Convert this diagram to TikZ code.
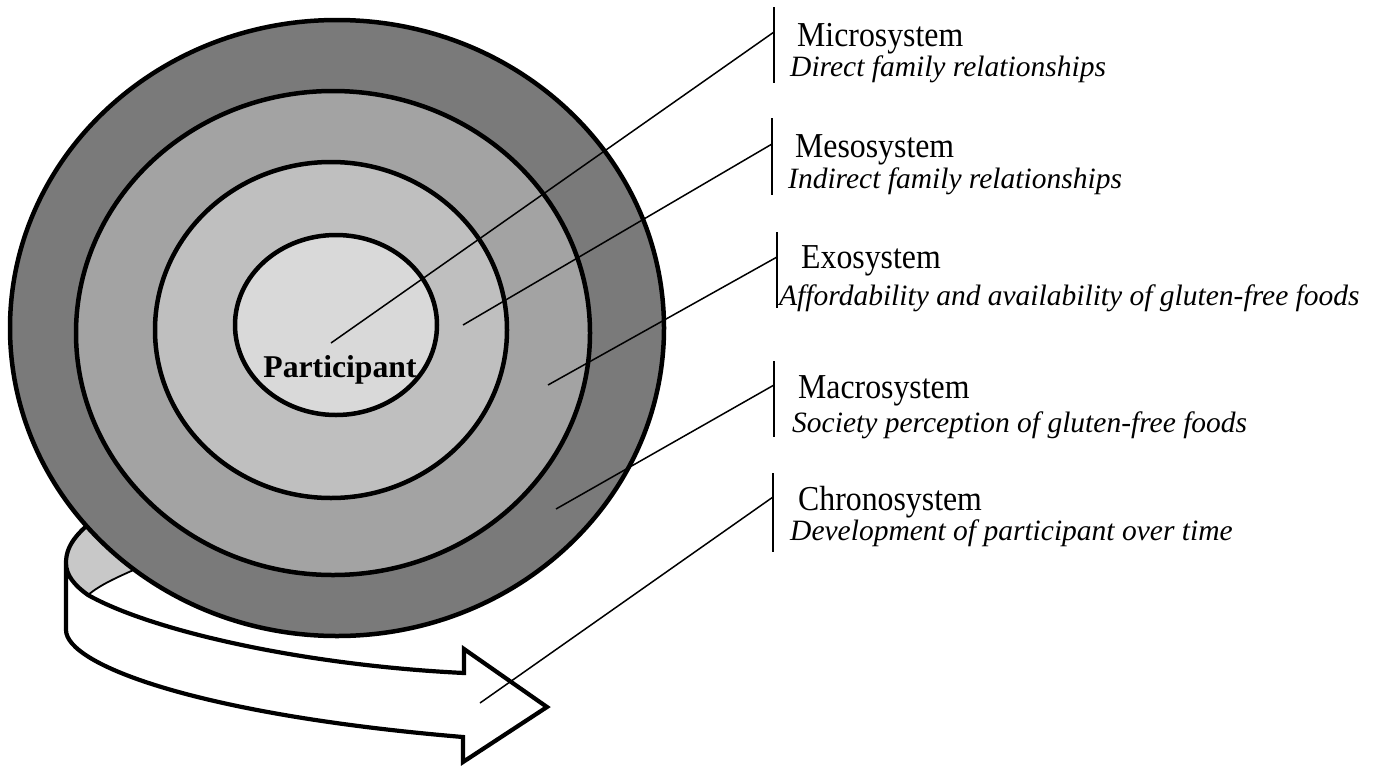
\documentclass[tikz,border=0pt]{standalone}
\usepackage{fontspec}
\setmainfont{Liberation Serif}
\definecolor{ringA}{RGB}{122,122,122}
\definecolor{ringB}{RGB}{163,163,163}
\definecolor{ringC}{RGB}{191,191,191}
\definecolor{ringD}{RGB}{217,217,217}
\definecolor{surf}{RGB}{200,200,200}
\newcommand{\tallhead}[1]{\scalebox{1}[1.1]{#1}}
\begin{document}
\begin{tikzpicture}[x=1pt,y=-1pt,
  ring/.style={draw=black,line width=4.5pt},
  leader/.style={draw=black,line width=1.5pt},
  bar/.style={draw=black,line width=1.6pt},
  title/.style={anchor=base west,inner sep=0pt,font=\fontsize{31.8}{36}\selectfont},
  desc/.style={anchor=base west,inner sep=0pt,font=\fontsize{29.5}{34}\selectfont\itshape},
  arrowedge/.style={draw=black,line width=4.2pt,line join=miter},
  thinedge/.style={draw=black,line width=1.8pt}]
\useasboundingbox (0,0) rectangle (1381,766);

% --- curved 3D arrow (chronosystem) ---
\coordinate (aTL) at (66,563);
\coordinate (aBL) at (66,630);
\coordinate (aSB) at (463,737);
\coordinate (aHB) at (463,762);
\coordinate (aTip) at (547,707);
\coordinate (aHT) at (464,649);
\coordinate (aST) at (464,673);
\coordinate (aIn) at (88,595);
\coordinate (aOutHid) at (100,515);
\coordinate (aInHid) at (145,565);

\fill[surf] (aTL) .. controls (66,546) and (76,533) .. (aOutHid) -- (160,560) -- (aInHid)
  .. controls (115,578) and (100,585) .. (aIn) .. controls (74,585) and (66,575) .. (aTL) -- cycle;
\draw[arrowedge] (aTL) .. controls (66,546) and (76,533) .. (aOutHid);
\draw[thinedge] (aIn) .. controls (100,585) and (115,578) .. (aInHid);
\draw[arrowedge,fill=white] (aTL) -- (aBL) .. controls (66,665) and (200,715) .. (aSB)
  -- (aHB) -- (aTip) -- (aHT) -- (aST) .. controls (300,665) and (150,630) .. (aIn)
  .. controls (74,585) and (66,575) .. (aTL) -- cycle;

% --- nested systems ---
\draw[ring,fill=ringA] (337,328) ellipse [x radius=327pt, y radius=308pt];
\draw[ring,fill=ringB] (333,333) ellipse [x radius=257pt, y radius=242pt];
\draw[ring,fill=ringC] (331,330) ellipse [x radius=176pt, y radius=168pt];
\draw[ring,fill=ringD] (336,325) ellipse [x radius=101pt, y radius=90pt];

\node[anchor=base,inner sep=0pt,font=\fontsize{31.7}{36}\selectfont\bfseries] (part) at (340,377) {Participant};

% --- leader lines ---
\coordinate (pMi) at (331,343); \coordinate (eMi) at (774,32);
\coordinate (pMe) at (463,325); \coordinate (eMe) at (772,144);
\coordinate (pEx) at (548,385); \coordinate (eEx) at (777,257);
\coordinate (pMa) at (556,509); \coordinate (eMa) at (774,385);
\coordinate (pCh) at (480,703); \coordinate (eCh) at (773,497);
\draw[leader] (pMi) -- (eMi);
\draw[leader] (pMe) -- (eMe);
\draw[leader] (pEx) -- (eEx);
\draw[leader] (pMa) -- (eMa);
\draw[leader] (pCh) -- (eCh);

% --- bars ---
\coordinate (bMiT) at (774,7);   \coordinate (bMiB) at (774,83);
\coordinate (bMeT) at (772,118); \coordinate (bMeB) at (772,195);
\coordinate (bExT) at (777,232); \coordinate (bExB) at (777,308);
\coordinate (bMaT) at (774,361); \coordinate (bMaB) at (774,437);
\coordinate (bChT) at (773,473); \coordinate (bChB) at (773,552);
\draw[bar] (bMiT) -- (bMiB);
\draw[bar] (bMeT) -- (bMeB);
\draw[bar] (bExT) -- (bExB);
\draw[bar] (bMaT) -- (bMaB);
\draw[bar] (bChT) -- (bChB);

% --- labels ---
\node[title] (tMi) at (797,46) {\tallhead{Microsystem}};
\node[desc]  (dMi) at (790,76) {Direct family relationships};
\node[title] (tMe) at (795,157) {\tallhead{Mesosystem}};
\node[desc]  (dMe) at (788,188) {Indirect family relationships};
\node[title] (tEx) at (801,268) {\tallhead{Exosystem}};
\node[desc]  (dEx) at (779,305) {Affordability and availability of gluten-free foods};
\node[title] (tMa) at (798,398) {\tallhead{Macrosystem}};
\node[desc]  (dMa) at (792,432) {Society perception of gluten-free foods};
\node[title] (tCh) at (798,510) {\tallhead{Chronosystem}};
\node[desc]  (dCh) at (790,540) {Development of participant over time};
\end{tikzpicture}
\end{document}
